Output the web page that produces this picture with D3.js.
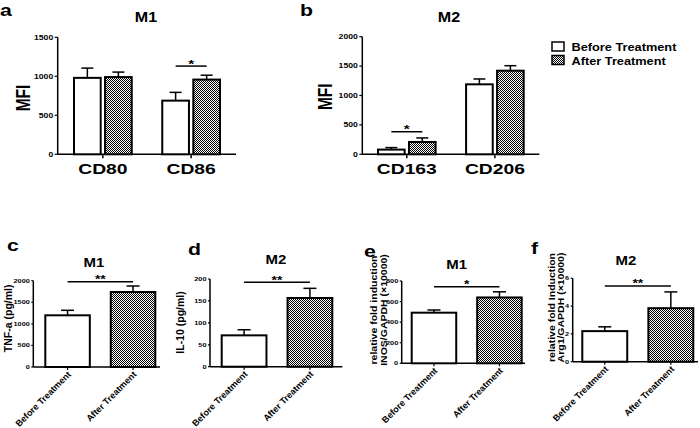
<!DOCTYPE html>
<html><head><meta charset="utf-8">
<script src="https://cdn.jsdelivr.net/npm/d3@7"></script>
<style>
body{margin:0;background:#fff}
svg{display:block}
text{font-family:Arial,"Liberation Sans",sans-serif;font-weight:bold;fill:#000}
</style>
</head><body>
<svg id="chart" width="700" height="428"></svg>
<script>
// ---------------- DATA ----------------
const treatments = ["Before Treatment", "After Treatment"];

// panel a (M1, MFI)
const groupsA = ["CD80", "CD86"];
const beforeA = [980, 688];
const beforeAErr = [125, 106];
const afterA = [990, 958];
const afterAErr = [64, 56];
const ticksA = [0, 500, 1000, 1500];

// panel b (M2, MFI)
const groupsB = ["CD163", "CD206"];
const beforeB = [80, 1190];
const beforeBErr = [34, 91];
const afterB = [210, 1422];
const afterBErr = [68, 85];
const ticksB = [0, 500, 1000, 1500, 2000];

// panel c (TNF-a)
const tnfMean = [1198, 1738];
const tnfErr = [116, 139];
const ticksC = [0, 500, 1000, 1500, 2000];

// panel d (IL-10)
const il10Mean = [71.5, 156.7];
const il10Err = [12.8, 22];
const ticksD = [0, 50, 100, 150, 200];

// panel e (INOS/GAPDH)
const inosMean = [492, 640];
const inosErr = [26, 55];
const ticksE = [0, 200, 400, 600, 800];

// panel f (Arg1/GAPDH)
const arg1Mean = [2.2, 3.85];
const arg1Err = [0.31, 1.17];
const ticksF = [0, 2, 4, 6];

// significance annotations: [label, height in data units]
const sigLabels = ["*", "*", "**", "**", "*", "**"];
const sigHeights = [1131, 384, 1977, 192.5, 745, 5.45];

// ---------------- DRAWING ----------------
const SX = 1.33;
const svg = d3.select("#chart");
const defs = svg.append("defs");
const pat = defs.append("pattern").attr("id", "checker")
  .attr("patternUnits", "userSpaceOnUse").attr("width", 2).attr("height", 2);
pat.append("rect").attr("width", 2).attr("height", 2).attr("fill", "#fff");
pat.append("rect").attr("width", 1).attr("height", 1).attr("fill", "#000");
pat.append("rect").attr("x", 1).attr("y", 1).attr("width", 1).attr("height", 1).attr("fill", "#000");

function T(sel, x, y, s, o) {
  o = o || {};
  return sel.append("text")
    .attr("transform", `translate(${x},${y}) scale(${o.sx || SX},1) rotate(${o.r || 0})`)
    .attr("font-size", o.fs || 10)
    .attr("text-anchor", o.anchor || "middle")
    .attr("dy", o.dy || null)
    .text(s);
}

function axes(g, L, y, ticks) {
  g.append("line").attr("x1", L.ax).attr("x2", L.ax)
    .attr("y1", y(0)).attr("y2", y(ticks[ticks.length - 1]))
    .attr("stroke", "#000").attr("stroke-width", 1.5);
  ticks.forEach(t => {
    g.append("line").attr("x1", L.ax - L.tl).attr("x2", L.ax)
      .attr("y1", y(t)).attr("y2", y(t)).attr("stroke", "#000").attr("stroke-width", 1.2);
    T(g, L.ax - L.tl - 1.5, y(t), String(t), {fs: L.tfs, anchor: "end", dy: "0.35em"});
  });
  g.append("line").attr("x1", L.ax).attr("x2", L.xend)
    .attr("y1", y(0)).attr("y2", y(0)).attr("stroke", "#000").attr("stroke-width", 1.5);
}

function bar(g, x, w, y, v, e, fill, capW) {
  g.append("line").attr("x1", x + w / 2).attr("x2", x + w / 2)
    .attr("y1", y(v)).attr("y2", y(v + e)).attr("stroke", "#000").attr("stroke-width", 1.5);
  g.append("line").attr("x1", x + w / 2 - capW / 2).attr("x2", x + w / 2 + capW / 2)
    .attr("y1", y(v + e)).attr("y2", y(v + e)).attr("stroke", "#000").attr("stroke-width", 1.5);
  g.append("rect").attr("x", x).attr("y", y(v)).attr("width", w).attr("height", y(0) - y(v))
    .attr("fill", fill).attr("stroke", "#000").attr("stroke-width", 2);
}

function sig(g, x1, x2, yv, label, fs) {
  g.append("line").attr("x1", x1).attr("x2", x2).attr("y1", yv).attr("y2", yv)
    .attr("stroke", "#000").attr("stroke-width", 1.5);
  T(g, (x1 + x2) / 2, yv + 1.5, label, {fs: fs});
}

// ---- grouped top panels ----
function grouped(L, groups, bef, befE, aft, aftE, ticks, sigIdx) {
  const g = svg.append("g");
  const y = d3.scaleLinear().domain([0, ticks[ticks.length - 1]]).range([L.base, L.top]);
  const x0 = d3.scaleBand().domain(groups).range(L.barRange).paddingInner(0.346).paddingOuter(0);
  const x1 = d3.scaleBand().domain(treatments).range([0, x0.bandwidth()]).paddingInner(0.14);
  axes(g, L, y, ticks);
  groups.forEach((grp, i) => {
    const gx = x0(grp);
    bar(g, gx + x1(treatments[0]), x1.bandwidth(), y, bef[i], befE[i], "#fff", 12);
    bar(g, gx + x1(treatments[1]), x1.bandwidth(), y, aft[i], aftE[i], "url(#checker)", 12);
    const c = gx + x0.bandwidth() / 2;
    g.append("line").attr("x1", c).attr("x2", c).attr("y1", y(0)).attr("y2", y(0) + 4)
      .attr("stroke", "#000").attr("stroke-width", 1.5);
    T(g, c, L.catY, grp, {fs: 14.5});
  });
  const si = L.sigGroup;
  const gx = x0(groups[si]);
  sig(g, gx + x1(treatments[0]) + x1.bandwidth() / 2, gx + x1(treatments[1]) + x1.bandwidth() / 2,
      y(sigHeights[sigIdx]), sigLabels[sigIdx], 11.5);
  T(g, L.titleX, L.titleY, L.title, {fs: 14, sx: 1.15});
  T(g, L.ylabX, L.ylabY, "MFI", {fs: 15.5, r: -90});
  T(g, L.letX, L.letY, L.letter, {fs: 16, anchor: "start"});
}

grouped({ax: 57.7, xend: 236, base: 154.3, top: 37.3, tl: 3, tfs: 6.5, barRange: [74, 220],
  catY: 173.5, title: "M1", titleX: 146, titleY: 21.5, ylabX: 30, ylabY: 98,
  letter: "a", letX: 0, letY: 16, sigGroup: 1},
  groupsA, beforeA, beforeAErr, afterA, afterAErr, ticksA, 0);

grouped({ax: 362.3, xend: 539.3, base: 154.3, top: 36.7, tl: 3, tfs: 6.5, barRange: [378, 523.7],
  catY: 173.5, title: "M2", titleX: 449, titleY: 21.5, ylabX: 331.7, ylabY: 96.7,
  letter: "b", letX: 300, letY: 15.5, sigGroup: 0},
  groupsB, beforeB, beforeBErr, afterB, afterBErr, ticksB, 1);

// legend
(function () {
  const g = svg.append("g");
  g.append("rect").attr("x", 552).attr("y", 42).attr("width", 12).attr("height", 9)
    .attr("fill", "#fff").attr("stroke", "#000").attr("stroke-width", 1.5);
  g.append("rect").attr("x", 552).attr("y", 55.5).attr("width", 12).attr("height", 9)
    .attr("fill", "url(#checker)").attr("stroke", "#000").attr("stroke-width", 1.5);
  T(g, 571.5, 51, treatments[0], {fs: 11, sx: 1.16, anchor: "start"});
  T(g, 571.5, 64.5, treatments[1], {fs: 11, sx: 1.16, anchor: "start"});
})();

// ---- simple bottom panels ----
function simple(L, mean, err, ticks, sigIdx) {
  const g = svg.append("g");
  const y = d3.scaleLinear().domain([0, ticks[ticks.length - 1]]).range([L.base, L.top]);
  const x = d3.scaleBand().domain(treatments).range(L.barRange).paddingInner(0.32).paddingOuter(0);
  axes(g, L, y, ticks);
  treatments.forEach((t, i) => {
    bar(g, x(t), x.bandwidth(), y, mean[i], err[i], i === 0 ? "#fff" : "url(#checker)", 13);
    const c = x(t) + x.bandwidth() / 2;
    g.append("line").attr("x1", c).attr("x2", c).attr("y1", y(0)).attr("y2", y(0) + 3)
      .attr("stroke", "#000").attr("stroke-width", 1.2);
    T(g, c + 4, y(0) + 8, t, {fs: 9, sx: 1.0, r: -45, anchor: "end"});
  });
  sig(g, x(treatments[0]) + x.bandwidth() / 2, x(treatments[1]) + x.bandwidth() / 2,
      y(sigHeights[sigIdx]), sigLabels[sigIdx], 10.5);
  T(g, L.titleX, L.titleY, L.title, {fs: 12.5, sx: 1.2});
  L.ylab.forEach((s, k) => T(g, L.ylabX[k], L.ylabY, s, {fs: L.ylabFs, r: -90, sx: L.ylabSx}));
  T(g, L.letX, L.letY, L.letter, {fs: 16, anchor: "start"});
}

simple({ax: 33.3, xend: 160, base: 367, top: 280.7, tl: 2, tfs: 5.5, barRange: [45.3, 155.3],
  title: "M1", titleX: 94, titleY: 267.3, ylab: ["TNF-a (pg/ml)"], ylabX: [11.5], ylabY: 318.3,
  ylabFs: 10.5, ylabSx: 1.0, letter: "c", letX: 7, letY: 251}, tnfMean, tnfErr, ticksC, 2);

simple({ax: 210, xend: 342.3, base: 366.7, top: 279, tl: 2, tfs: 5.5, barRange: [221.7, 332.3],
  title: "M2", titleX: 276, titleY: 264.3, ylab: ["IL-10 (pg/ml)"], ylabX: [184], ylabY: 322.5,
  ylabFs: 10.5, ylabSx: 1.0, letter: "d", letX: 188, letY: 255}, il10Mean, il10Err, ticksD, 3);

simple({ax: 401.7, xend: 525, base: 363.3, top: 281, tl: 2, tfs: 5.5, barRange: [411.7, 521.7],
  title: "M1", titleX: 456.7, titleY: 269.3, ylab: ["relative fold induction", "INOS/GAPDH (×10000)"],
  ylabX: [377, 386.5], ylabY: 310, ylabFs: 10.5, ylabSx: 0.85, letter: "e", letX: 364, letY: 256.7},
  inosMean, inosErr, ticksE, 4);

simple({ax: 572.7, xend: 698, base: 361.7, top: 278.3, tl: 2, tfs: 5.5, barRange: [582.3, 693.3],
  title: "M2", titleX: 626, titleY: 265, ylab: ["relative fold Induction", "Arg1/GAPDH (×10000)"],
  ylabX: [555, 563.5], ylabY: 307.5, ylabFs: 10.5, ylabSx: 0.85, letter: "f", letX: 531, letY: 254},
  arg1Mean, arg1Err, ticksF, 5);
</script>
</body></html>
